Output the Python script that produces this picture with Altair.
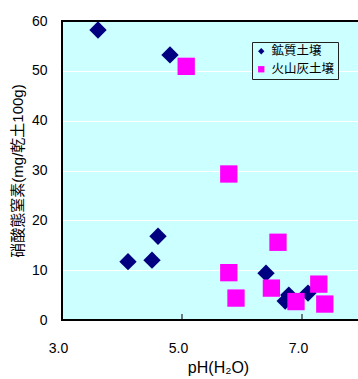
import altair as alt
import pandas as pd

mineral_ph = [3.6, 4.8, 4.1, 4.5, 4.6, 6.4, 6.78, 6.72, 7.1]
mineral_n = [58.2, 53.2, 11.7, 12.0, 16.8, 9.4, 5.0, 3.8, 5.4]
ash_ph = [5.07, 5.78, 5.78, 5.9, 6.6, 6.49, 6.9, 7.28, 7.38]
ash_n = [50.9, 29.3, 9.5, 4.4, 15.6, 6.4, 3.7, 7.2, 3.2]
series = ["鉱質土壌", "火山灰土壌"]
minor_ticks = [5.0, 7.0]

rows = [{"ph": p, "n": v, "s": series[0]} for p, v in zip(mineral_ph, mineral_n)]
rows += [{"ph": p, "n": v, "s": series[1]} for p, v in zip(ash_ph, ash_n)]
df = pd.DataFrame(rows)
df["order"] = range(len(df))

FONT = "Liberation Sans, Noto Sans CJK JP"
W, H = 296, 299

xscale = alt.Scale(domain=[3, 3 + W / 60], nice=False, zero=False)
yscale = alt.Scale(domain=[0, 60], nice=False)

points = alt.Chart(df).mark_point(filled=True, opacity=1, strokeWidth=0).encode(
    x=alt.X("ph:Q", scale=xscale,
            axis=alt.Axis(values=[3, 5, 7], format=".1f", title="pH(H₂O)",
                          ticks=False, domain=False, grid=False, labelFlush=False,
                          labelOffset=-4,
                          labelPadding=21, labelFontSize=14, labelColor="black",
                          labelFont=FONT, titleFont=FONT, titleFontSize=16,
                          titleFontWeight="normal", titleColor="black",
                          titlePadding=4, titleX=156)),
    y=alt.Y("n:Q", scale=yscale,
            axis=alt.Axis(values=[0, 10, 20, 30, 40, 50, 60], ticks=False, domain=False,
                          grid=True, gridColor="white", gridWidth=1,
                          labelPadding=15, labelFontSize=14, labelColor="black",
                          labelFont=FONT, title="硝酸態窒素(mg/乾土100g)",
                          titleFont=FONT, titleFontSize=15, titleFontWeight="normal",
                          titleColor="black", titlePadding=6)),
    color=alt.Color("s:N", scale=alt.Scale(domain=series, range=["#000080", "#FF00FF"]),
                    legend=alt.Legend(title=None, orient="none", legendX=190, legendY=21,
                                      fillColor="#CCFFFF", strokeColor="#222222",
                                      padding=3, rowPadding=5, symbolSize=40,
                                      labelOffset=4,
                                      labelFont="Noto Sans CJK JP", labelFontSize=12.5,
                                      labelColor="black", symbolStrokeWidth=0)),
    shape=alt.Shape("s:N", scale=alt.Scale(domain=series, range=["diamond", "square"])),
    size=alt.value(300),
    order=alt.Order("order:Q"),
)

ticks = alt.Chart(pd.DataFrame({"t": minor_ticks})).mark_rule(color="black", strokeWidth=1).encode(
    x=alt.X("t:Q", scale=xscale),
    y=alt.value(H),
    y2=alt.value(H - 6),
)

top = alt.Chart().mark_rule(color="black", strokeWidth=2).encode(
    x=alt.value(-1), x2=alt.value(W), y=alt.value(0))
left = alt.Chart().mark_rule(color="black", strokeWidth=2).encode(
    x=alt.value(0), y=alt.value(-1), y2=alt.value(H + 1))
bottom = alt.Chart().mark_rule(color="black", strokeWidth=2).encode(
    x=alt.value(-1), x2=alt.value(W), y=alt.value(H))

chart = alt.layer(points, ticks, top, left, bottom).properties(
    width=W, height=H,
    background="white",
    autosize=alt.AutoSizeParams(type="none"),
    padding={"left": 62, "top": 21, "right": 0, "bottom": 59},
).configure_view(
    fill="#CCFFFF", strokeWidth=0
)

chart.save("out.html", embed_options={"renderer": "svg", "actions": False})
